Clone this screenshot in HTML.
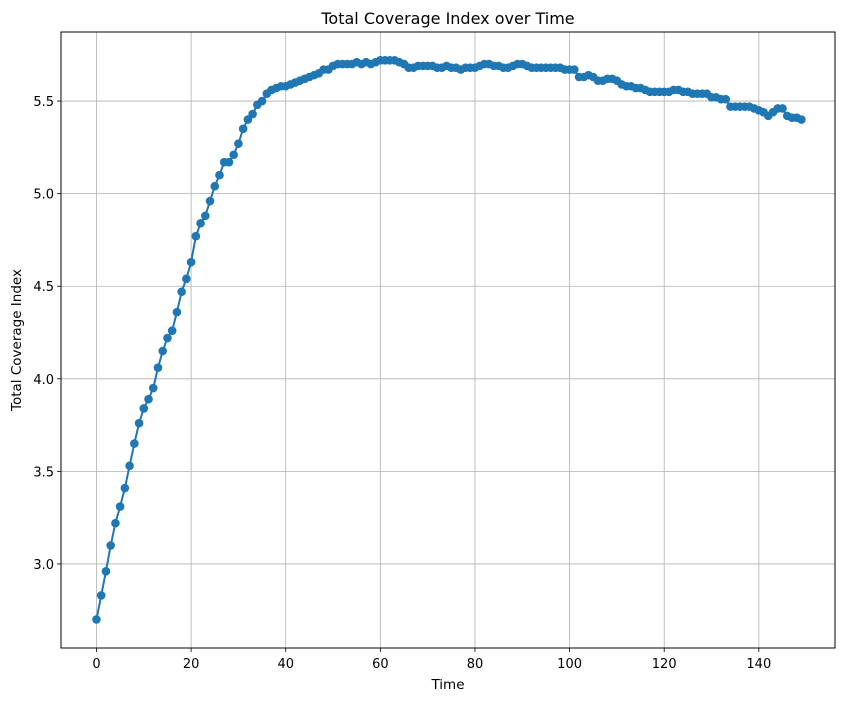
<!DOCTYPE html>
<html><head><meta charset="utf-8"><style>
body{margin:0;background:#fff;font-family:"Liberation Sans","DejaVu Sans",sans-serif;}
svg text{font-family:"DejaVu Sans","Liberation Sans",sans-serif;}
</style></head><body>
<svg id="chart" width="846" height="701" xmlns="http://www.w3.org/2000/svg">
<rect width="846" height="701" fill="#fff"/>
<text x="448" y="24" text-anchor="middle" font-size="16">Total Coverage Index over Time</text>
<g id="grid"></g>
<g id="ticks"></g>
<g id="series"></g>
<rect x="61" y="32" width="774" height="616" fill="none" stroke="#000" stroke-width="1"/>
<text x="448" y="689" text-anchor="middle" font-size="13.5">Time</text>
<text transform="translate(21,340) rotate(-90)" text-anchor="middle" font-size="13.5">Total Coverage Index</text>
</svg>
<script>
const values=[2.70,2.83,2.96,3.10,3.22,3.31,3.41,3.53,3.65,3.76,3.84,3.89,3.95,4.06,4.15,4.22,4.26,4.36,4.47,4.54,
4.63,4.77,4.84,4.88,4.96,5.04,5.10,5.17,5.17,5.21,5.27,5.35,5.40,5.43,5.48,5.50,5.54,5.56,5.57,5.58,
5.58,5.59,5.60,5.61,5.62,5.63,5.64,5.65,5.67,5.67,5.69,5.70,5.70,5.70,5.70,5.71,5.70,5.71,5.70,5.71,
5.72,5.72,5.72,5.72,5.71,5.70,5.68,5.68,5.69,5.69,5.69,5.69,5.68,5.68,5.69,5.68,5.68,5.67,5.68,5.68,
5.68,5.69,5.70,5.70,5.69,5.69,5.68,5.68,5.69,5.70,5.70,5.69,5.68,5.68,5.68,5.68,5.68,5.68,5.68,5.67,
5.67,5.67,5.63,5.63,5.64,5.63,5.61,5.61,5.62,5.62,5.61,5.59,5.58,5.58,5.57,5.57,5.56,5.55,5.55,5.55,
5.55,5.55,5.56,5.56,5.55,5.55,5.54,5.54,5.54,5.54,5.52,5.52,5.51,5.51,5.47,5.47,5.47,5.47,5.47,5.46,
5.45,5.44,5.42,5.44,5.46,5.46,5.42,5.41,5.41,5.40];
const xTicks=[0,20,40,60,80,100,120,140];
const yTicks=[3.0,3.5,4.0,4.5,5.0,5.5];
const NS="http://www.w3.org/2000/svg";
const L=61,R=835,T=32,B=648,xMin=-7.5,xMax=156.1,yMin=2.546,yMax=5.873;
const sx=v=>L+(v-xMin)/(xMax-xMin)*(R-L);
const sy=v=>B-(v-yMin)/(yMax-yMin)*(B-T);
function mk(tag,attrs,parent){const e=document.createElementNS(NS,tag);for(const k in attrs)e.setAttribute(k,attrs[k]);parent.appendChild(e);return e;}
const grid=document.getElementById('grid'),ticks=document.getElementById('ticks'),series=document.getElementById('series');
xTicks.forEach(t=>{const x=sx(t);
 const g=mk('line',{x1:x,x2:x,y1:T,y2:B,stroke:'#b0b0b0','stroke-width':0.8},grid);
 
 
 const k=mk('line',{x1:x,x2:x,y1:B,y2:B+4,stroke:'#000','stroke-width':0.8},ticks);
 
 
 const tx=mk('text',{x:x,y:B+20,'text-anchor':'middle','font-size':13},ticks);tx.textContent=t;
 
 
});
yTicks.forEach(t=>{const y=sy(t);
 const g=mk('line',{x1:L,x2:R,y1:y,y2:y,stroke:'#b0b0b0','stroke-width':0.8},grid);
 
 
 const k=mk('line',{x1:L-4,x2:L,y1:y,y2:y,stroke:'#000','stroke-width':0.8},ticks);
 
 
 const tx=mk('text',{x:L-7,y:y+5,'text-anchor':'end','font-size':13},ticks);tx.textContent=t.toFixed(1);
 
 
});
const pl=mk('polyline',{points:values.map((v,i)=>sx(i)+','+sy(v)).join(' '),fill:'none',stroke:'#1f77b4','stroke-width':2},series);


values.forEach((v,i)=>{const c=mk('circle',{cx:sx(i),cy:sy(v),r:4.3,fill:'#1f77b4'},series);
 
 
});
</script>
</body></html>
